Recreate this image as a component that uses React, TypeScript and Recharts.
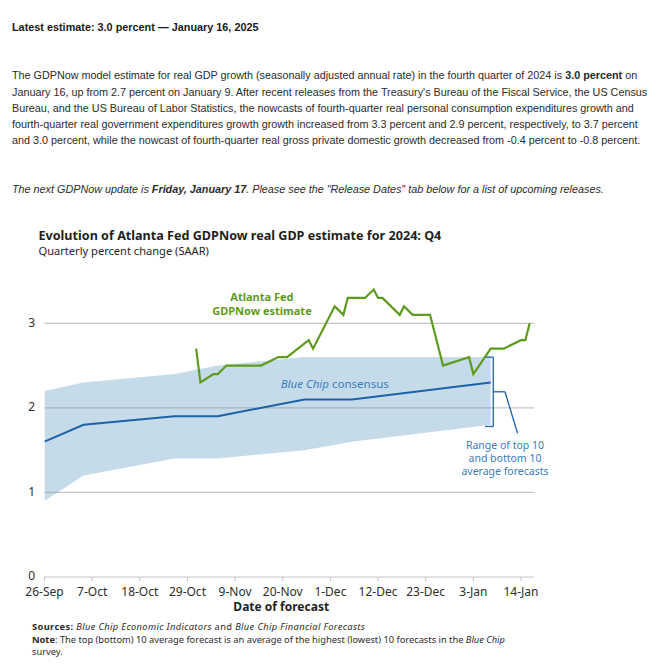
import React from "react";
import {
  ComposedChart,
  Line,
  Area,
  XAxis,
  YAxis,
  ReferenceLine,
  ReferenceDot,
  Label,
} from "recharts";

// ---- data ----
const tickDays = [0, 11, 22, 33, 44, 55, 66, 77, 88, 99, 110];
const tickLabels = [
  "26-Sep", "7-Oct", "18-Oct", "29-Oct", "9-Nov", "20-Nov",
  "1-Dec", "12-Dec", "23-Dec", "3-Jan", "14-Jan",
];
const yTicks = [0, 1, 2, 3];
const gridValues = [1, 2, 3];

// days since 26-Sep-2024
const gdpNowDays = [35, 36, 39, 40, 42, 50, 54, 56, 61, 62, 67, 69, 70, 74, 76, 77, 78, 82, 83, 85, 89, 92, 98, 99, 103, 106, 110, 111, 112];
const gdpNowValues = [2.7, 2.3, 2.4, 2.4, 2.5, 2.5, 2.6, 2.6, 2.8, 2.7, 3.2, 3.1, 3.3, 3.3, 3.4, 3.3, 3.3, 3.1, 3.2, 3.1, 3.1, 2.5, 2.6, 2.4, 2.7, 2.7, 2.8, 2.8, 3.0];

const blueChipDays = [0, 9, 30, 40, 60, 71, 103];
const consensus = [1.6, 1.8, 1.9, 1.9, 2.1, 2.1, 2.3];
const top10 = [2.2, 2.3, 2.4, 2.5, 2.6, 2.6, 2.6];
const bottom10 = [0.9, 1.2, 1.4, 1.4, 1.5, 1.6, 1.8];

const GREEN = "#5e9a1d";
const BLUE = "#1c62a9";
const BAND = "#c6dbea";
const ANN_BLUE = "#3a7cbb";
const FONT = '"Noto Sans", sans-serif';
const ARIAL = '"Liberation Sans", Arial, sans-serif';

const paragraphLines = [
  [
    "The GDPNow model estimate for real GDP growth (seasonally adjusted annual rate) in the fourth quarter of 2024 is ",
    <b key="b">3.0 percent</b>,
    " on",
  ],
  ["January 16, up from 2.7 percent on January 9. After recent releases from the Treasury's Bureau of the Fiscal Service, the US Census"],
  ["Bureau, and the US Bureau of Labor Statistics, the nowcasts of fourth-quarter real personal consumption expenditures growth and"],
  ["fourth-quarter real government expenditures growth growth increased from 3.3 percent and 2.9 percent, respectively, to 3.7 percent"],
  ["and 3.0 percent, while the nowcast of fourth-quarter real gross private domestic growth decreased from -0.4 percent to -0.8 percent."],
];

export default function App() {
  const bandData = blueChipDays.map((d, i) => ({
    day: d,
    range: [bottom10[i], top10[i]],
    consensus: consensus[i],
  }));
  const gdpData = gdpNowDays.map((d, i) => ({ day: d, gdp: gdpNowValues[i] }));

  const n = blueChipDays.length;
  const bx = blueChipDays[n - 1] + 0.6;
  const bTop = top10[n - 1];
  const bBot = bottom10[n - 1] - 0.02;
  const bMid = (bTop + bBot) / 2;

  const gdpLabel = (p: any) => {
    const vb = p.viewBox || {};
    const cx = vb.x + (vb.width || 0) / 2;
    const cy = vb.y + (vb.height || 0) / 2;
    return (
      <text x={cx} y={cy - 0.4} textAnchor="middle" fill={GREEN} fontFamily={FONT} fontWeight={700} fontSize={11}>
        <tspan x={cx} dy={0}>Atlanta Fed</tspan>
        <tspan x={cx} dy={14}>GDPNow estimate</tspan>
      </text>
    );
  };
  const bcLabel = (p: any) => {
    const vb = p.viewBox || {};
    const cx = vb.x + (vb.width || 0) / 2;
    const cy = vb.y + (vb.height || 0) / 2;
    return (
      <text x={cx} y={cy} textAnchor="middle" fill={ANN_BLUE} fontFamily={FONT} fontSize={11.5}>
        <tspan fontStyle="italic">Blue Chip</tspan>
        <tspan>{" consensus"}</tspan>
      </text>
    );
  };
  const rangeLabel = (p: any) => {
    const vb = p.viewBox || {};
    const cx = vb.x + (vb.width || 0) / 2;
    const cy = vb.y + (vb.height || 0) / 2;
    return (
      <text x={cx} y={cy} textAnchor="middle" fill={ANN_BLUE} fontFamily={FONT} fontSize={10.5}>
        <tspan x={cx} dy={0}>Range of top 10</tspan>
        <tspan x={cx} dy={13}>and bottom 10</tspan>
        <tspan x={cx} dy={13}>average forecasts</tspan>
      </text>
    );
  };

  return (
    <div style={{ position: "absolute", left: 0, top: 0, width: 658, height: 665, background: "#fff", overflow: "hidden" }}>
      <div style={{ position: "absolute", left: 12, top: 19, fontFamily: ARIAL, fontWeight: 700, fontSize: 10.85, lineHeight: "16px", color: "#1a1a1a", whiteSpace: "nowrap" }}>
        Latest estimate: 3.0 percent — January 16, 2025
      </div>
      <div style={{ position: "absolute", left: 12, top: 67.3, fontFamily: ARIAL, fontSize: 10.8, lineHeight: "16.3px", color: "#2b2b2b", whiteSpace: "nowrap" }}>
        {paragraphLines.map((l, i) => (
          <div key={i}>{l}</div>
        ))}
      </div>
      <div style={{ position: "absolute", left: 12, top: 181.4, fontFamily: ARIAL, fontSize: 10.8, lineHeight: "16px", color: "#2b2b2b", whiteSpace: "nowrap", fontStyle: "italic" }}>
        The next GDPNow update is <b>Friday, January 17</b>. Please see the "Release Dates" tab below for a list of upcoming releases.
      </div>

      <div style={{ position: "absolute", left: 38.5, top: 229.2, fontFamily: FONT, fontWeight: 700, fontSize: 12.6, lineHeight: "13px", color: "#1f1f1f", whiteSpace: "nowrap" }}>
        Evolution of Atlanta Fed GDPNow real GDP estimate for 2024: Q4
      </div>
      <div style={{ position: "absolute", left: 38.5, top: 245.4, fontFamily: FONT, fontSize: 11.1, lineHeight: "12px", color: "#262626", whiteSpace: "nowrap" }}>
        Quarterly percent change (SAAR)
      </div>

      <div style={{ position: "absolute", left: 0, top: 260 }}>
        <ComposedChart width={560} height={357} margin={{ top: 21, right: 26, bottom: 0, left: 0 }}>
          <XAxis
            dataKey="day"
            type="number"
            domain={[0, 113]}
            ticks={tickDays}
            tickFormatter={(v: number) => tickLabels[tickDays.indexOf(v)]}
            interval={0}
            height={40}
            tickSize={4}
            tickMargin={6}
            stroke="#c4c4c4"
            tick={{ fill: "#2e2e2e", fontSize: 12, fontFamily: FONT }}
            allowDataOverflow
          >
            <Label
              content={(p: any) => {
                const vb = p.viewBox;
                return (
                  <text x={vb.x + vb.width / 2 - 8} y={vb.y + vb.height - 6} textAnchor="middle" fontFamily={FONT} fontWeight={700} fontSize={12} fill="#1f1f1f">
                    Date of forecast
                  </text>
                );
              }}
            />
          </XAxis>
          <YAxis
            type="number"
            domain={[0, 3.5]}
            ticks={yTicks}
            width={44.5}
            axisLine={false}
            tickLine={false}
            tickSize={0}
            tickMargin={9.5}
            tick={{ fill: "#2e2e2e", fontSize: 12, fontFamily: FONT, dy: -1 }}
            allowDataOverflow
          />
          <Area
            data={bandData}
            dataKey="range"
            type="linear"
            stroke="none"
            fill={BAND}
            fillOpacity={1}
            isAnimationActive={false}
          />
          {gridValues.map((g) => (
            <ReferenceLine key={g} y={g} stroke="#8f8f8f" strokeOpacity={0.5} strokeWidth={1.3} />
          ))}
          <Line
            data={bandData}
            dataKey="consensus"
            type="linear"
            stroke={BLUE}
            strokeWidth={2}
            dot={false}
            isAnimationActive={false}
          />
          <Line
            data={gdpData}
            dataKey="gdp"
            type="linear"
            stroke={GREEN}
            strokeWidth={2.2}
            dot={false}
            isAnimationActive={false}
          />
          {/* bracket */}
          <ReferenceLine segment={[{ x: bx, y: bTop }, { x: bx, y: bBot }]} stroke={BLUE} strokeWidth={1.3} />
          <ReferenceLine segment={[{ x: bx - 1.7, y: bTop }, { x: bx, y: bTop }]} stroke={BLUE} strokeWidth={1.3} />
          <ReferenceLine segment={[{ x: bx - 1.9, y: bBot }, { x: bx, y: bBot }]} stroke={BLUE} strokeWidth={1.3} />
          <ReferenceLine segment={[{ x: bx, y: bMid }, { x: bx + 2.7, y: bMid }]} stroke={BLUE} strokeWidth={1.3} />
          <ReferenceLine segment={[{ x: bx + 2.7, y: bMid }, { x: bx + 5.6, y: 1.7 }]} stroke={BLUE} strokeWidth={1.3} />
          <ReferenceDot x={50.2} y={3.255} r={1} fill="none" stroke="none" label={gdpLabel} />
          <ReferenceDot x={67} y={2.23} r={1} fill="none" stroke="none" label={bcLabel} />
          <ReferenceDot x={106.3} y={1.51} r={1} fill="none" stroke="none" label={rangeLabel} />
        </ComposedChart>
      </div>

      <div style={{ position: "absolute", left: 32, top: 621.3, fontFamily: FONT, fontSize: 9.3, lineHeight: "12.2px", color: "#2b2b2b", whiteSpace: "nowrap" }}>
        <div style={{ letterSpacing: "0.36px" }}>
          <b>Sources:</b> <i>Blue Chip Economic Indicators</i> and <i>Blue Chip Financial Forecasts</i>
        </div>
        <div>
          <b>Note</b>: The top (bottom) 10 average forecast is an average of the highest (lowest) 10 forecasts in the <i>Blue Chip</i>
        </div>
        <div>survey.</div>
      </div>
    </div>
  );
}
